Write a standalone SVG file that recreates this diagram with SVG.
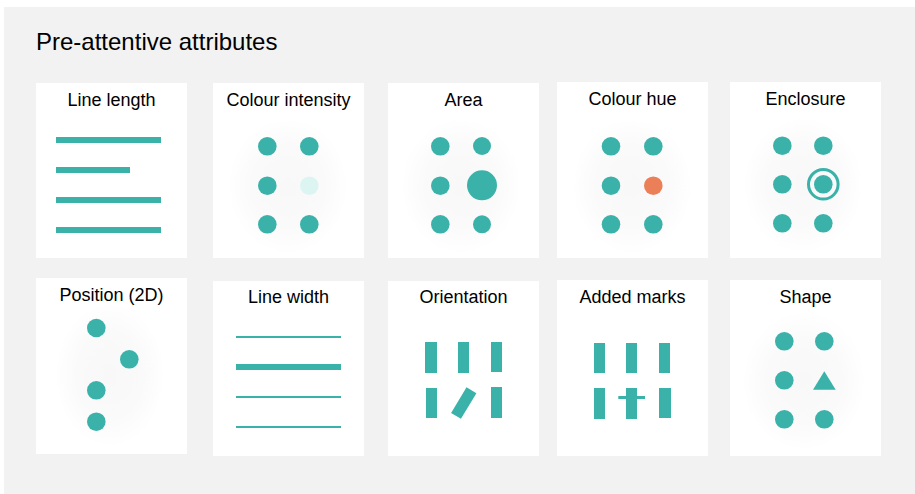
<svg xmlns="http://www.w3.org/2000/svg" width="915" height="494" viewBox="0 0 915 494">
<defs>
<radialGradient id="glow" cx="0.5" cy="0.5" r="0.5">
<stop offset="0" stop-color="#f8f8f8"/>
<stop offset="0.6" stop-color="#fafafa"/>
<stop offset="1" stop-color="#ffffff"/>
</radialGradient>
</defs>
<style>
.bg{fill:#f2f2f2}
.panel{fill:#ffffff}
.lbl{font-family:"Liberation Sans",Arial,sans-serif;font-size:18px;fill:#000;text-anchor:middle}
.title{font-family:"Liberation Sans",Arial,sans-serif;font-size:24px;fill:#000}
.t{fill:#3ab2aa}
.glow{fill:url(#glow)}
</style>
<rect class="bg" x="4" y="7" width="911" height="487"/>
<text class="title" x="36" y="50">Pre-attentive attributes</text>

<g id="line-length">
<rect class="panel" x="36" y="83" width="151" height="175"/>
<text class="lbl" x="111.5" y="106">Line length</text>
<rect class="t" x="56" y="137" width="105" height="6"/>
<rect class="t" x="56" y="167" width="74" height="6"/>
<rect class="t" x="56" y="197" width="105" height="6"/>
<rect class="t" x="56" y="227" width="105" height="6"/>
</g>

<g id="colour-intensity">
<rect class="panel" x="213" y="83" width="151" height="175"/>
<text class="lbl" x="288.5" y="106">Colour intensity</text>
<ellipse class="glow" cx="288" cy="186" rx="60" ry="68"/>
<circle class="t" cx="267.3" cy="146.3" r="9.3"/>
<circle class="t" cx="309.3" cy="146.3" r="9.3"/>
<circle class="t" cx="267.3" cy="185.7" r="9.3"/>
<circle fill="#dcf5f2" cx="309.3" cy="185.7" r="9.3"/>
<circle class="t" cx="267.3" cy="224.3" r="9.3"/>
<circle class="t" cx="309.3" cy="224.3" r="9.3"/>
</g>

<g id="area">
<rect class="panel" x="388" y="83" width="151" height="175"/>
<text class="lbl" x="463.5" y="106">Area</text>
<ellipse class="glow" cx="461" cy="186" rx="60" ry="68"/>
<circle class="t" cx="440.3" cy="146.3" r="9.3"/>
<circle class="t" cx="482" cy="146" r="9"/>
<circle class="t" cx="440.3" cy="185.7" r="9.3"/>
<circle class="t" cx="482" cy="185.3" r="15"/>
<circle class="t" cx="440.3" cy="224.3" r="9.3"/>
<circle class="t" cx="482" cy="224.3" r="9"/>
</g>

<g id="colour-hue">
<rect class="panel" x="557" y="82" width="151" height="176"/>
<text class="lbl" x="632.5" y="105.3">Colour hue</text>
<ellipse class="glow" cx="632" cy="186" rx="60" ry="68"/>
<circle class="t" cx="611" cy="146.3" r="9.3"/>
<circle class="t" cx="653.3" cy="146.3" r="9.3"/>
<circle class="t" cx="611" cy="185.7" r="9.3"/>
<circle fill="#eb8058" cx="653.3" cy="185.7" r="9.3"/>
<circle class="t" cx="611" cy="224.3" r="9.3"/>
<circle class="t" cx="653.3" cy="224.3" r="9.3"/>
</g>

<g id="enclosure">
<rect class="panel" x="730" y="82" width="151" height="176"/>
<text class="lbl" x="805.5" y="105.3">Enclosure</text>
<ellipse class="glow" cx="803" cy="185" rx="60" ry="68"/>
<circle class="t" cx="782.3" cy="145.7" r="9.3"/>
<circle class="t" cx="823.3" cy="145.7" r="9.3"/>
<circle class="t" cx="782.3" cy="184.3" r="9.3"/>
<circle class="t" cx="823.3" cy="184.3" r="9.3"/>
<circle fill="none" stroke="#3ab2aa" stroke-width="3" cx="823.3" cy="184.3" r="14.8"/>
<circle class="t" cx="782.3" cy="223.3" r="9.3"/>
<circle class="t" cx="823.3" cy="223.3" r="9.3"/>
</g>

<g id="position-2d">
<rect class="panel" x="36" y="278" width="151" height="176"/>
<text class="lbl" x="111.5" y="300.7">Position (2D)</text>
<ellipse class="glow" cx="110" cy="375" rx="55" ry="72"/>
<circle class="t" cx="96.3" cy="328" r="9.3"/>
<circle class="t" cx="129.3" cy="359.3" r="9.3"/>
<circle class="t" cx="96.3" cy="390.3" r="9.3"/>
<circle class="t" cx="96.3" cy="421.7" r="9.3"/>
</g>

<g id="line-width">
<rect class="panel" x="213" y="281" width="151" height="175"/>
<text class="lbl" x="288.5" y="303.3">Line width</text>
<rect class="t" x="236" y="336" width="105" height="2"/>
<rect class="t" x="236" y="364" width="105" height="6"/>
<rect class="t" x="236" y="396" width="105" height="2"/>
<rect class="t" x="236" y="426" width="105" height="2"/>
</g>

<g id="orientation">
<rect class="panel" x="388" y="281" width="151" height="175"/>
<text class="lbl" x="463.5" y="303.3">Orientation</text>
<rect class="t" x="425" y="342" width="12" height="31"/>
<rect class="t" x="458" y="342" width="11" height="31"/>
<rect class="t" x="491" y="342" width="11" height="30"/>
<rect class="t" x="426" y="388" width="11" height="30"/>
<rect class="t" x="458" y="388" width="11.5" height="30" transform="rotate(31 463.7 403)"/>
<rect class="t" x="491" y="387" width="11" height="31"/>
</g>

<g id="added-marks">
<rect class="panel" x="557" y="280" width="151" height="176"/>
<text class="lbl" x="632.5" y="303">Added marks</text>
<rect class="t" x="594" y="343" width="11" height="30"/>
<rect class="t" x="626" y="343" width="11" height="30"/>
<rect class="t" x="659" y="343" width="11" height="30"/>
<rect class="t" x="594" y="388" width="11" height="31"/>
<rect class="t" x="626" y="388" width="11" height="31"/>
<rect class="t" x="618.3" y="396" width="26.7" height="3"/>
<rect class="t" x="659" y="388" width="12" height="30"/>
</g>

<g id="shape">
<rect class="panel" x="730" y="280" width="151" height="176"/>
<text class="lbl" x="805.5" y="303">Shape</text>
<ellipse class="glow" cx="804" cy="381" rx="62" ry="70"/>
<circle class="t" cx="784.3" cy="341.3" r="9.3"/>
<circle class="t" cx="824.3" cy="341.3" r="9.3"/>
<circle class="t" cx="784.3" cy="380.3" r="9.3"/>
<polygon class="t" points="824.3,371.3 835.7,389.7 813,389.7"/>
<circle class="t" cx="784.3" cy="419.3" r="9.3"/>
<circle class="t" cx="824.3" cy="419.3" r="9.3"/>
</g>
</svg>
